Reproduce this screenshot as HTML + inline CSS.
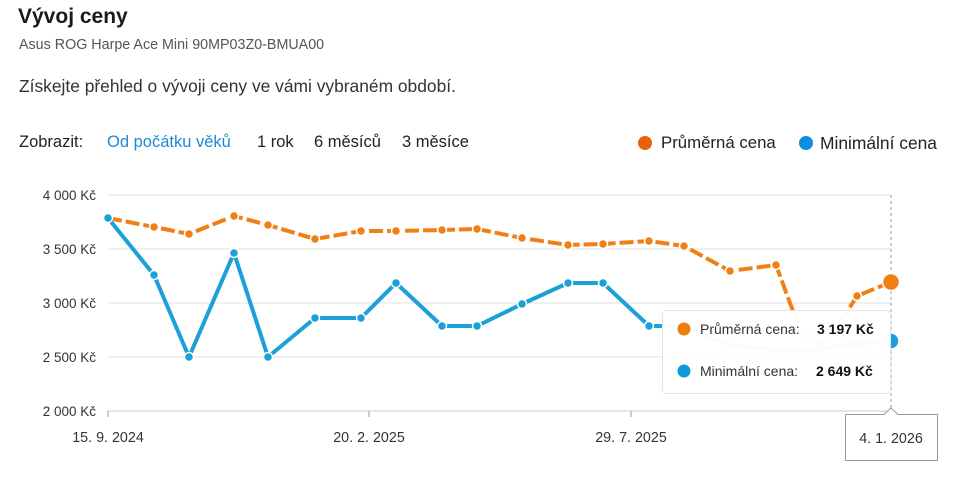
<!DOCTYPE html>
<html><head><meta charset="utf-8"><style>
body{margin:0;width:956px;height:482px;background:#fff;font-family:"Liberation Sans",sans-serif;position:relative;overflow:hidden;color:#222}
.t{position:absolute;white-space:nowrap}
</style></head><body>
<div class="t" style="left:18px;top:5px;font-size:21px;font-weight:bold;color:#1a1a1a">Vývoj ceny</div>
<div class="t" style="left:19px;top:37px;font-size:14.3px;color:#555">Asus ROG Harpe Ace Mini 90MP03Z0-BMUA00</div>
<div class="t" style="left:19px;top:76px;font-size:17.4px;color:#333">Získejte přehled o vývoji ceny ve vámi vybraném období.</div>
<div class="t" style="left:19px;top:133px;font-size:16.5px;color:#222">Zobrazit:</div>
<div class="t" style="left:107px;top:133px;font-size:16.5px;color:#1b8ad3">Od počátku věků</div>
<div class="t" style="left:257px;top:133px;font-size:16.5px;color:#222">1 rok</div>
<div class="t" style="left:314px;top:133px;font-size:16.5px;color:#222">6 měsíců</div>
<div class="t" style="left:402px;top:133px;font-size:16.5px;color:#222">3 měsíce</div>
<div class="t" style="left:638px;top:136px;width:14px;height:14px;border-radius:50%;background:#e8620c"></div>
<div class="t" style="left:661px;top:133px;font-size:16.8px;color:#222">Průměrná cena</div>
<div class="t" style="left:799px;top:136px;width:14px;height:14px;border-radius:50%;background:#0e8ee0"></div>
<div class="t" style="left:820px;top:133px;font-size:17.4px;color:#222">Minimální cena</div>
<svg width="956" height="482" style="position:absolute;left:0;top:0" font-family="Liberation Sans, sans-serif">
<g stroke="#e2e2e2" stroke-width="1">
<line x1="108" y1="195" x2="891" y2="195"/><line x1="108" y1="249" x2="891" y2="249"/><line x1="108" y1="303" x2="891" y2="303"/><line x1="108" y1="357" x2="891" y2="357"/></g>
<line x1="108" y1="411" x2="891" y2="411" stroke="#ccc"/>
<g stroke="#999"><line x1="108" y1="411" x2="108" y2="417"/><line x1="369" y1="411" x2="369" y2="417"/><line x1="631" y1="411" x2="631" y2="417"/></g>
<line x1="891" y1="195" x2="891" y2="411" stroke="#999" stroke-dasharray="3,3"/>
<g font-size="13.5" fill="#333" text-anchor="end"><text x="96" y="200">4 000 Kč</text><text x="96" y="254">3 500 Kč</text><text x="96" y="308">3 000 Kč</text><text x="96" y="362">2 500 Kč</text><text x="96" y="416">2 000 Kč</text></g>
<g font-size="14.3" fill="#333" text-anchor="middle"><text x="108" y="442">15. 9. 2024</text><text x="369" y="442">20. 2. 2025</text><text x="631" y="442">29. 7. 2025</text></g>
<polyline fill="none" stroke="#1ba0d8" stroke-width="4" stroke-linejoin="round" points="108,218 154,275 189,357 234,253 268,357 315,318 361,318 396,283 442,326 477,326 522,304 568,283 603,283 649,326 684,326 730,345 776,350 810,350 845,345 891,341"/>
<polyline fill="none" stroke="#f08016" stroke-width="4" stroke-dasharray="14,4" stroke-linejoin="round" points="108,218 154,227 189,234 234,216 268,225 315,239 361,231 396,231 442,230 477,229 522,238 568,245 603,244 649,241 684,246 730,271 776,265 800,330 820,345 845,315 857,296 891,282"/>
<g fill="#1ba0d8" stroke="#fff" stroke-width="1.5"><circle cx="108" cy="218" r="4.5"/><circle cx="154" cy="275" r="4.5"/><circle cx="189" cy="357" r="4.5"/><circle cx="234" cy="253" r="4.5"/><circle cx="268" cy="357" r="4.5"/><circle cx="315" cy="318" r="4.5"/><circle cx="361" cy="318" r="4.5"/><circle cx="396" cy="283" r="4.5"/><circle cx="442" cy="326" r="4.5"/><circle cx="477" cy="326" r="4.5"/><circle cx="522" cy="304" r="4.5"/><circle cx="568" cy="283" r="4.5"/><circle cx="603" cy="283" r="4.5"/><circle cx="649" cy="326" r="4.5"/><circle cx="891" cy="341" r="8"/></g>
<g fill="#f08016" stroke="#fff" stroke-width="1.5"><circle cx="154" cy="227" r="4.5"/><circle cx="189" cy="234" r="4.5"/><circle cx="234" cy="216" r="4.5"/><circle cx="268" cy="225" r="4.5"/><circle cx="315" cy="239" r="4.5"/><circle cx="361" cy="231" r="4.5"/><circle cx="396" cy="231" r="4.5"/><circle cx="442" cy="230" r="4.5"/><circle cx="477" cy="229" r="4.5"/><circle cx="522" cy="238" r="4.5"/><circle cx="568" cy="245" r="4.5"/><circle cx="603" cy="244" r="4.5"/><circle cx="649" cy="241" r="4.5"/><circle cx="684" cy="246" r="4.5"/><circle cx="730" cy="271" r="4.5"/><circle cx="776" cy="265" r="4.5"/><circle cx="857" cy="296" r="4.5"/><circle cx="891" cy="282" r="8.5"/></g>
<rect x="662.5" y="310.5" width="228" height="83" rx="4" fill="#fff" fill-opacity="0.97" stroke="#e4e4e4"/>
<circle cx="684" cy="329" r="6.5" fill="#f07c0a"/><circle cx="684" cy="371" r="6.5" fill="#0e9ad8"/>
<text x="700" y="334" font-size="14" fill="#333">Průměrná cena:</text><text x="817" y="334" font-size="14" font-weight="bold" fill="#111">3 197 Kč</text>
<text x="700" y="376" font-size="14" fill="#333">Minimální cena:</text><text x="816" y="376" font-size="14" font-weight="bold" fill="#111">2 649 Kč</text>
<path d="M845.5,414.5 H884 L891,408 L898,414.5 H937.5 V460.5 H845.5 Z" fill="#fff" stroke="#999"/>
<text x="891" y="443" font-size="14.3" fill="#333" text-anchor="middle">4. 1. 2026</text>
</svg>
</body></html>
